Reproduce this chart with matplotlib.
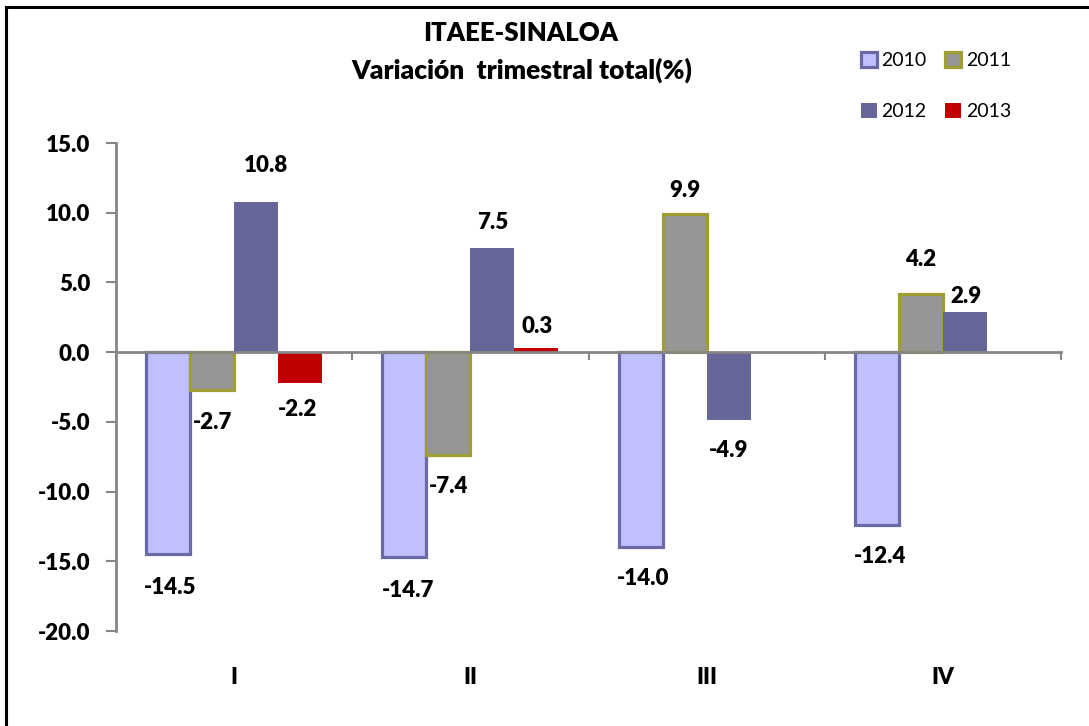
import matplotlib
matplotlib.use("Agg")
import matplotlib.pyplot as plt
import numpy as np
from matplotlib.lines import Line2D
from matplotlib.ticker import FormatStrFormatter, FixedLocator

plt.rcParams['font.family'] = ['Lato', 'DejaVu Sans']
plt.rcParams['axes.unicode_minus'] = False

categories = ["I", "II", "III", "IV"]
series_names = ["2010", "2011", "2012", "2013"]
v2010 = [-14.5, -14.7, -14.0, -12.4]
v2011 = [-2.7, -7.4, 9.9, 4.2]
v2012 = [10.8, 7.5, -4.9, 2.9]
v2013 = [-2.2, 0.3, np.nan, np.nan]
series_values = [v2010, v2011, v2012, v2013]

# label offsets (pixels beyond the bar end) and horizontal nudges
label_off = [[33, 33, 31, 31], [33, 31, 24, 34], [36, 25, 30, 15], [27, 21, 0, 0]]
label_dx = [[2, 4, 2, 3], [0, 0, 0, 0], [10, 0, 0, 1], [-2, 1, 0, 0]]

faces = ["#C0C0FF", "#969696", "#666699", "#C00000"]
edges = ["#6A6AA6", "#9E9E32", "none", "none"]
lws = [2.3, 2.3, 0, 0]

FS = 16
W, H = 1089, 726
fig = plt.figure(figsize=(W / 100, H / 100), dpi=100)
ax = fig.add_axes([116 / W, 1 - 631 / H, (1061 - 116) / W, (631 - 143) / H])

x = np.arange(1, len(categories) + 1)
bw = 0.186
handles = []
for i, (vals, name) in enumerate(zip(series_values, series_names)):
    xs = x + (i - 1.5) * bw
    bars = ax.bar(xs, vals, width=bw, color=faces[i], edgecolor=edges[i],
                  linewidth=lws[i], label=name, zorder=3)
    handles.append(bars)
    for j, (xx, v) in enumerate(zip(xs, vals)):
        if np.isnan(v):
            continue
        sgn = 1 if v >= 0 else -1
        ax.annotate(f"{v:.1f}", xy=(xx, v),
                    xytext=(label_dx[i][j] * 0.72, sgn * label_off[i][j] * 0.72),
                    textcoords="offset points", ha="center", va="center",
                    fontsize=FS, fontweight="heavy", color="black", zorder=5)

ax.set_xlim(0.5, len(categories) + 0.5)
ax.set_ylim(-20, 15)
ax.set_yticks(np.arange(-20, 15.1, 5))
ax.yaxis.set_major_formatter(FormatStrFormatter('%.1f'))
ax.tick_params(axis='y', direction='out', length=7.5, width=1.5, color="#868686",
               labelsize=FS, pad=11)
for lab in ax.get_yticklabels():
    lab.set_fontweight("heavy")

ax.spines['top'].set_visible(False)
ax.spines['right'].set_visible(False)
ax.spines['left'].set_color("#868686")
ax.spines['left'].set_linewidth(2.0)
ax.spines['bottom'].set_position(('data', 0))
ax.spines['bottom'].set_color("#868686")
ax.spines['bottom'].set_linewidth(2.0)
ax.spines['bottom'].set_zorder(4)
ax.xaxis.set_major_locator(FixedLocator(np.arange(0.5, len(categories) + 0.6, 1)))
ax.tick_params(axis='x', direction='out', length=6, width=1.5, color="#868686",
               labelbottom=False)

sec = ax.secondary_xaxis(0)
sec.set_xticks(x)
sec.set_xticklabels(categories)
sec.spines['bottom'].set_visible(False)
sec.tick_params(length=0, pad=26, labelsize=FS)
for lab in sec.get_xticklabels():
    lab.set_fontweight("heavy")

# title
fig.text(521 / W, 1 - 33 / H, "ITAEE-SINALOA", ha="center", va="center",
         fontsize=18.5, fontweight="heavy")
fig.text(522 / W, 1 - 70 / H, "Variación  trimestral total(%)", ha="center",
         va="center", fontsize=19, fontweight="heavy")

# legend (row-wise order)
order = [0, 2, 1, 3]
leg = fig.legend([handles[k] for k in order], [series_names[k] for k in order],
                 ncol=2, loc="center", bbox_to_anchor=(936 / W, 1 - 86 / H),
                 frameon=False, fontsize=14, handlelength=0.8, handleheight=0.8,
                 handletextpad=0.25, columnspacing=0.95, labelspacing=1.75,
                 borderpad=0)

# outer frame (top and left edges)
fig.add_artist(Line2D([6 / W, 6 / W], [0, 1 - 7 / H], color="black", lw=2.2,
                      transform=fig.transFigure))
fig.add_artist(Line2D([6 / W, 1], [1 - 7 / H, 1 - 7 / H], color="black", lw=2.2,
                      transform=fig.transFigure))

fig.savefig("out.png", dpi=100, facecolor="white")
